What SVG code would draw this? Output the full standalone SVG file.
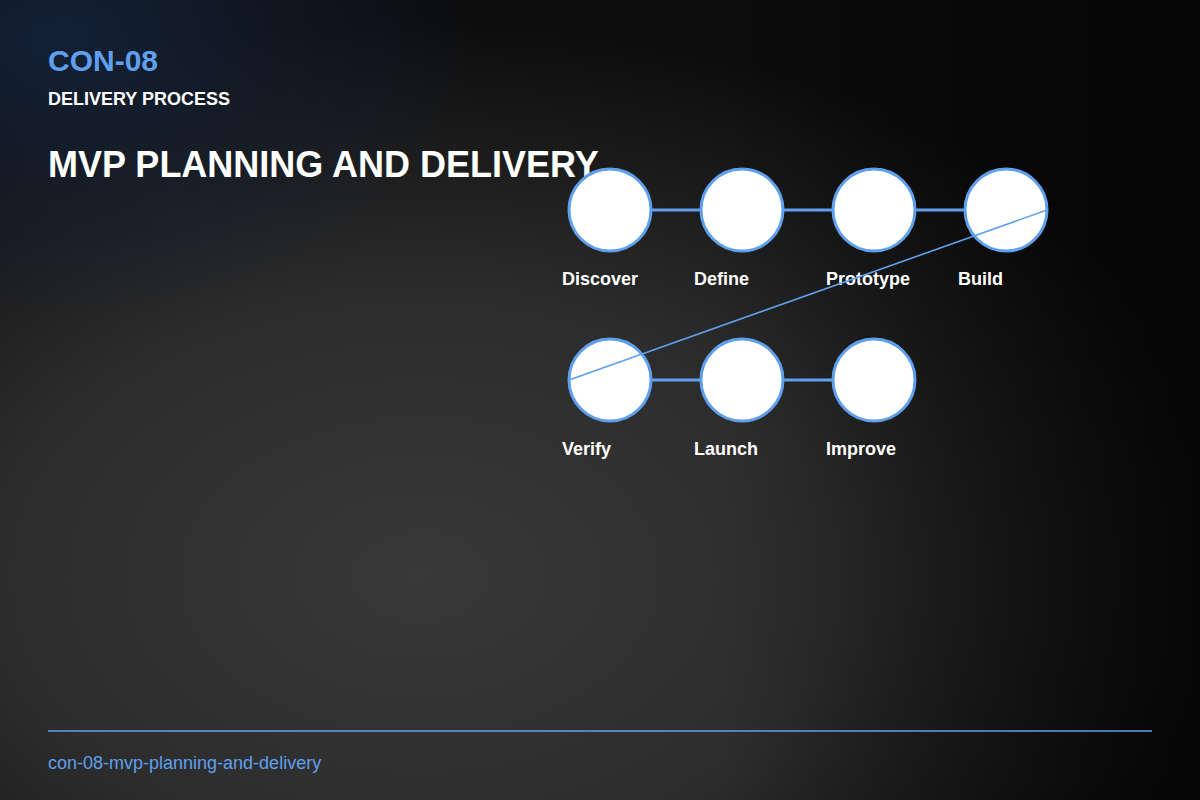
<svg xmlns="http://www.w3.org/2000/svg" width="1200" height="800" viewBox="0 0 1200 800">
<defs>
<radialGradient id="bg" cx="0.35" cy="0.72" r="0.7">
<stop offset="0" stop-color="#383838"/>
<stop offset="0.5" stop-color="#2c2c2c"/>
<stop offset="1" stop-color="#0c0c0c"/>
</radialGradient>
<radialGradient id="blue" cx="0.05" cy="0.05" r="0.35">
<stop offset="0" stop-color="#14233a" stop-opacity="0.9"/>
<stop offset="1" stop-color="#14233a" stop-opacity="0"/>
</radialGradient>
<linearGradient id="dark" x1="0" y1="0" x2="1" y2="0">
<stop offset="0.6" stop-color="#000" stop-opacity="0"/>
<stop offset="1" stop-color="#000" stop-opacity="0.6"/>
</linearGradient>
<style>
.n{fill:#fff;stroke:#5fa0ee;stroke-width:3}
.l{font-family:"Liberation Sans",Arial,sans-serif;font-weight:bold;font-size:18px;fill:#fff}
.c{stroke:#5fa0ee;stroke-width:3}
</style>
</defs>
<rect width="1200" height="800" fill="url(#bg)"/>
<rect width="1200" height="800" fill="url(#dark)"/>
<rect width="1200" height="800" fill="url(#blue)"/>
<text x="48" y="71" font-family="Liberation Sans,Arial,sans-serif" font-weight="bold" font-size="30" fill="#5fa0ee">CON-08</text>
<text x="48" y="105" font-family="Liberation Sans,Arial,sans-serif" font-weight="bold" font-size="18" fill="#fff">DELIVERY PROCESS</text>
<text x="48" y="177" font-family="Liberation Sans,Arial,sans-serif" font-weight="bold" font-size="36" fill="#fff">MVP PLANNING AND DELIVERY</text>
<g id="connectors">
<line class="c" x1="610" y1="210" x2="1006" y2="210"/>
<line class="c" x1="610" y1="380" x2="874" y2="380"/>
</g>
<g id="discover"><circle class="n" cx="610" cy="210" r="41"/><text class="l" x="562" y="285">Discover</text></g>
<g id="define"><circle class="n" cx="742" cy="210" r="41"/><text class="l" x="694" y="285">Define</text></g>
<g id="prototype"><circle class="n" cx="874" cy="210" r="41"/><text class="l" x="826" y="285">Prototype</text></g>
<g id="build"><circle class="n" cx="1006" cy="210" r="41"/><text class="l" x="958" y="285">Build</text></g>
<g id="verify"><circle class="n" cx="610" cy="380" r="41"/><text class="l" x="562" y="455">Verify</text></g>
<g id="launch"><circle class="n" cx="742" cy="380" r="41"/><text class="l" x="694" y="455">Launch</text></g>
<g id="improve"><circle class="n" cx="874" cy="380" r="41"/><text class="l" x="826" y="455">Improve</text></g>
<g id="connector-wrap"><line x1="1047" y1="210" x2="569" y2="380" stroke="#5fa0ee" stroke-width="1.6"/></g>
<line x1="48" y1="731" x2="1152" y2="731" stroke="#5fa0ee" stroke-width="1.5"/>
<text x="48" y="769" font-family="Liberation Sans,Arial,sans-serif" font-size="18" fill="#5fa0ee">con-08-mvp-planning-and-delivery</text>
</svg>
